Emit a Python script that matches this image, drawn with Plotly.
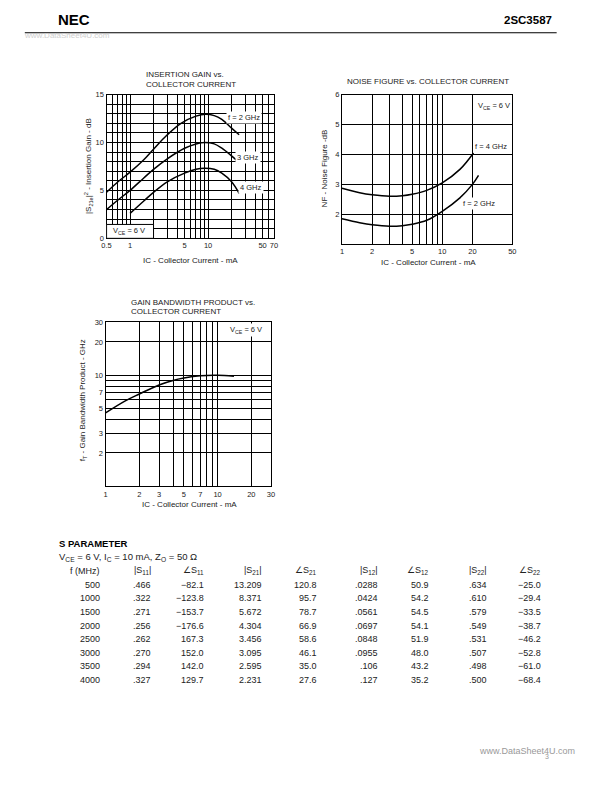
import numpy as np
import plotly.graph_objects as go

# Ganho de insercao vs corrente de coletor
ig_ic_2g = [0.5, 0.7, 1, 1.5, 2, 3, 4.5, 7, 9.3, 12, 15, 20, 25]
ig_2g = [4.8, 5.9, 6.9, 8.2, 9.3, 10.8, 12.0, 12.75, 12.95, 12.8, 12.4, 11.5, 10.8]
ig_ic_3g = [0.5, 0.7, 1, 1.5, 2, 3, 5, 7, 9, 12, 15, 20, 25]
ig_3g = [3.0, 4.0, 5.0, 6.3, 7.2, 8.3, 9.4, 9.85, 10.0, 9.85, 9.4, 8.6, 7.9]
ig_ic_4g = [1, 1.5, 2, 3, 5, 7, 9, 12, 15, 20, 25]
ig_4g = [2.6, 3.9, 4.8, 5.9, 6.8, 7.2, 7.3, 7.2, 6.8, 5.9, 4.7]

# Figura de ruido vs corrente de coletor
nf_ic_4g = [1, 1.5, 2, 3, 4, 5, 7, 10, 15, 20.5]
nf_4g = [2.87, 2.72, 2.65, 2.6, 2.62, 2.67, 2.8, 3.05, 3.5, 4.05]
nf_ic_2g = [1, 1.5, 2, 3, 4, 5, 7, 10, 15, 20, 23]
nf_2g = [1.85, 1.72, 1.65, 1.6, 1.62, 1.67, 1.8, 2.1, 2.55, 3.0, 3.3]

# Produto ganho-banda vs corrente de coletor
ft_ic = [1, 1.5, 2, 3, 4, 5, 7, 10, 14]
ft = [4.6, 5.9, 6.8, 8.2, 9.0, 9.45, 9.9, 10.0, 9.8]

# Parametros S
f_mhz = [500, 1000, 1500, 2000, 2500, 3000, 3500, 4000]
s11_mag = [0.466, 0.322, 0.271, 0.256, 0.262, 0.270, 0.294, 0.327]
s11_ang = [-82.1, -123.8, -153.7, -176.6, 167.3, 152.0, 142.0, 129.7]
s21_mag = [13.209, 8.371, 5.672, 4.304, 3.456, 3.095, 2.595, 2.231]
s21_ang = [120.8, 95.7, 78.7, 66.9, 58.6, 46.1, 35.0, 27.6]
s12_mag = [0.0288, 0.0424, 0.0561, 0.0697, 0.0848, 0.0955, 0.106, 0.127]
s12_ang = [50.9, 54.2, 54.5, 54.1, 51.9, 48.0, 43.2, 35.2]
s22_mag = [0.634, 0.610, 0.579, 0.549, 0.531, 0.507, 0.498, 0.500]
s22_ang = [-25.0, -29.4, -33.5, -38.7, -46.2, -52.8, -61.0, -68.4]

# ticks / grades
ig_xlab = [0.5, 1, 5, 10, 50, 70]
ig_xminor = [0.6, 0.7, 0.8, 0.9, 2, 3, 4, 6, 7, 8, 9, 20, 30, 40, 60]
ig_ylab = [0, 5, 10, 15]
ig_yminor = [1, 2, 3, 4, 6, 7, 8, 9, 11, 12, 13, 14]
nf_xlab = [1, 2, 5, 10, 20, 50]
nf_xminor = [3, 4, 6, 7, 8, 9]
nf_ylab = [2, 3, 4, 5, 6]
ft_xlab = [1, 2, 3, 5, 7, 10, 20, 30]
ft_xminor = [4, 6, 8, 9]
ft_ylab = [2, 3, 5, 7, 10, 20, 30]
ft_yminor = [4, 6, 8, 9]

FONT = "Liberation Sans"
# a pagina tem margem de 8 px no body
OX, OY = 8, 8
W, H = 596, 776


def px(x):
    return (x - OX) / W


def py(y):
    return 1 - (y - OY) / H


def fmt_ang(v):
    return ('%.1f' % v).replace('-', '\u2212')


def fmt_mag(v):
    s = '%#.3g' % v
    return s[1:] if s.startswith('0') else s


fig = go.Figure()

curve = dict(color='black', width=1.5, shape='spline')
fig.add_trace(go.Scatter(x=ig_ic_2g, y=ig_2g, mode='lines', line=curve, xaxis='x', yaxis='y'))
fig.add_trace(go.Scatter(x=ig_ic_3g, y=ig_3g, mode='lines', line=curve, xaxis='x', yaxis='y'))
fig.add_trace(go.Scatter(x=ig_ic_4g, y=ig_4g, mode='lines', line=curve, xaxis='x', yaxis='y'))
fig.add_trace(go.Scatter(x=nf_ic_4g, y=nf_4g, mode='lines', line=curve, xaxis='x2', yaxis='y2'))
fig.add_trace(go.Scatter(x=nf_ic_2g, y=nf_2g, mode='lines', line=curve, xaxis='x2', yaxis='y2'))
fig.add_trace(go.Scatter(x=ft_ic, y=ft, mode='lines', line=curve, xaxis='x3', yaxis='y3'))


def ax(labels, minor=None, **kw):
    d = dict(showgrid=True, gridcolor='black', gridwidth=1, showline=True, linecolor='black',
             linewidth=1.2, mirror=True, ticks='', zeroline=False, tickmode='array',
             tickvals=labels, ticktext=['%g' % v for v in labels],
             tickfont=dict(family=FONT, size=7.5, color='#222'))
    if minor:
        d['minor'] = dict(tickmode='array', tickvals=minor, showgrid=True, gridcolor='black',
                          gridwidth=1, ticks='')
    d.update(kw)
    return d


fig.update_layout(
    width=W, height=H, margin=dict(l=0, r=0, t=0, b=0),
    paper_bgcolor='white', plot_bgcolor='white', showlegend=False,
    xaxis=ax(ig_xlab, ig_xminor, type='log', domain=[px(103), px(273)], anchor='y',
             range=[np.log10(0.5), np.log10(70)]),
    yaxis=ax(ig_ylab, ig_yminor, domain=[py(237), py(91.5)], anchor='x', range=[0, 15]),
    xaxis2=ax(nf_xlab, nf_xminor, type='log', domain=[px(342), px(515)], anchor='y2',
              range=[0, np.log10(50)]),
    yaxis2=ax(nf_ylab, None, domain=[py(243), py(91.5)], anchor='x2', range=[1, 6]),
    xaxis3=ax(ft_xlab, ft_xminor, type='log', domain=[px(102), px(270)], anchor='y3',
              range=[0, np.log10(30)]),
    yaxis3=ax(ft_ylab, ft_yminor, type='log', domain=[py(488), py(322)], anchor='x3',
              range=[0, np.log10(30)]),
)


def note(x, y, text, xa='left', size=8, color='#222', angle=0, bg=None, family=FONT):
    fig.add_annotation(x=px(x), y=py(y), xref='paper', yref='paper', text=text, showarrow=False,
                       xanchor=xa, yanchor='middle', textangle=angle, align='left',
                       bgcolor=bg, borderpad=1,
                       font=dict(family=family, size=size, color=color))


# caixa VCE no grafico de ganho
fig.add_shape(type='rect', xref='x', yref='y', x0=0.5, x1=2, y0=0, y1=1.45,
              fillcolor='white', line=dict(color='black', width=1), layer='above')
note(108, 230, 'V<sub>CE</sub> = 6 V', size=7.5)

# titulos
note(141, 71, 'INSERTION GAIN vs.')
note(141, 81, 'COLLECTOR CURRENT')
note(429, 78, 'NOISE FIGURE vs. COLLECTOR CURRENT', xa='center')
note(126, 302, 'GAIN BANDWIDTH PRODUCT vs.')
note(126, 311.5, 'COLLECTOR CURRENT')

# eixos
note(188, 259, 'IC - Collector Current - mA', xa='center')
note(430, 261, 'IC - Collector Current - mA', xa='center')
note(187, 506, 'IC - Collector Current - mA', xa='center')
note(84, 164, '|S<sub>21e</sub>|<sup>2</sup> - Insertion Gain - dB', xa='center', angle=-90)
note(324, 166, 'NF - Noise Figure -dB', xa='center', angle=-90)
note(80, 401, 'f<sub>T</sub> - Gain Bandwidth Product - GHz', xa='center', angle=-90)

# rotulos das curvas
note(224, 115, 'f = 2 GHz', size=7.5, bg='white')
note(233, 155, '3 GHz', size=7.5, bg='white')
note(236, 186, '4 GHz', size=7.5, bg='white')
note(478, 103, 'V<sub>CE</sub> = 6 V', size=7.5, bg='white')
note(475, 144, 'f = 4 GHz', size=7.5, bg='white')
note(463, 202, 'f = 2 GHz', size=7.5, bg='white')
note(226, 330, 'V<sub>CE</sub> = 6 V', size=7.5, bg='white')

# cabecalho / rodape
note(52, 16, '<b>NEC</b>', size=15, color='black')
note(557, 16, '<b>2SC3587</b>', xa='right', size=11.5, color='black')
fig.add_shape(type='line', xref='paper', yref='paper', x0=px(20), x1=px(560), y0=py(29), y1=py(29),
              line=dict(color='black', width=1))
note(17, 32, 'www.DataSheet4U.com', size=8, color='#d0d0d0')
note(53, 546, '<b>S PARAMETER</b>', size=9.5, color='black')
note(53, 559, 'V<sub>CE</sub> = 6 V, I<sub>C</sub> = 10 mA, Z<sub>O</sub> = 50 \u03a9', size=9.5)
note(479, 756, 'www.DataSheet4U.com', size=9, color='#999')
note(546, 761, '3', size=7, color='#999')

# tabela de parametros S (texto alinhado a direita em cada coluna)
hdr = ['f (MHz)', '|S<sub>11</sub>|', '\u2220S<sub>11</sub>', '|S<sub>21</sub>|', '\u2220S<sub>21</sub>',
       '|S<sub>12</sub>|', '\u2220S<sub>12</sub>', '|S<sub>22</sub>|', '\u2220S<sub>22</sub>']
cols = [[str(v) for v in f_mhz],
        [fmt_mag(v) for v in s11_mag], [fmt_ang(v) for v in s11_ang],
        ['%.3f' % v for v in s21_mag], [fmt_ang(v) for v in s21_ang],
        [fmt_mag(v) for v in s12_mag], [fmt_ang(v) for v in s12_ang],
        [fmt_mag(v) for v in s22_mag], [fmt_ang(v) for v in s22_ang]]
col_right = [98, 150, 204, 262.5, 319, 381, 432.5, 491, 546.5]
row_y0, row_dy, hdr_y = 587.5, 13.75, 573.5

for j, (h, c) in enumerate(zip(hdr, cols)):
    note(col_right[j], hdr_y, h, xa='right', size=9)
    for i, v in enumerate(c):
        note(col_right[j], row_y0 + i * row_dy, v, xa='right', size=9)

fig.write_html("out.html")
